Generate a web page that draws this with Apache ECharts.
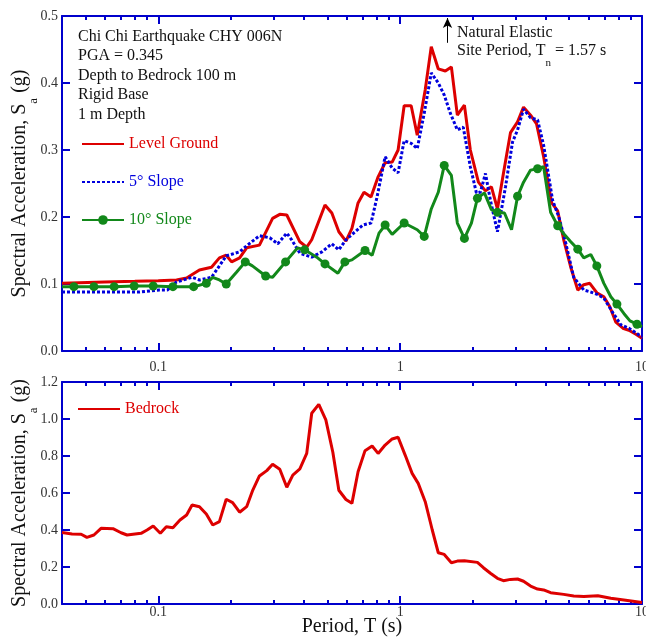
<!DOCTYPE html>
<html lang="en">
<head>
<meta charset="UTF-8">
<title>Chi Chi Earthquake CHY 006N - spectral acceleration</title>
<script src="https://cdn.jsdelivr.net/npm/echarts@6/dist/echarts.min.js"></script>
<style>
  html, body { margin: 0; padding: 0; background: #fff; }
  #main { width: 646px; height: 638px; }
</style>
</head>
<body>
<div id="main"></div>
<script>
// [period T (s), Sa (g)]
var levelGround = [[0.04,0.101],[0.06,0.103],[0.08,0.104],[0.1,0.105],[0.119,0.106],[0.131,0.109],[0.148,0.121],[0.166,0.125],[0.179,0.139],[0.191,0.143],[0.201,0.133],[0.217,0.139],[0.232,0.154],[0.262,0.158],[0.297,0.198],[0.318,0.204],[0.34,0.203],[0.385,0.163],[0.411,0.155],[0.431,0.166],[0.489,0.218],[0.522,0.206],[0.558,0.178],[0.597,0.164],[0.632,0.183],[0.67,0.221],[0.709,0.237],[0.758,0.23],[0.811,0.26],[0.867,0.281],[0.927,0.282],[0.981,0.3],[1.039,0.366],[1.111,0.366],[1.177,0.322],[1.27,0.39],[1.345,0.454],[1.438,0.421],[1.538,0.418],[1.629,0.424],[1.724,0.352],[1.844,0.367],[1.951,0.3],[2.107,0.252],[2.253,0.239],[2.385,0.245],[2.525,0.212],[2.673,0.265],[2.86,0.326],[3.059,0.342],[3.238,0.364],[3.462,0.352],[3.665,0.339],[3.92,0.29],[4.232,0.221],[4.482,0.209],[4.746,0.166],[5.075,0.125],[5.427,0.091],[5.745,0.099],[6.083,0.101],[6.504,0.087],[6.955,0.081],[7.363,0.066],[7.795,0.043],[8.336,0.034],[8.825,0.031],[9.437,0.025],[10,0.019]];

var slope5 = [[0.04,0.088],[0.06,0.088],[0.083,0.088],[0.101,0.091],[0.109,0.091],[0.119,0.103],[0.138,0.11],[0.148,0.106],[0.166,0.11],[0.179,0.127],[0.191,0.142],[0.217,0.148],[0.232,0.157],[0.262,0.172],[0.289,0.169],[0.312,0.16],[0.34,0.176],[0.356,0.166],[0.385,0.146],[0.431,0.14],[0.475,0.148],[0.522,0.16],[0.558,0.151],[0.597,0.166],[0.702,0.188],[0.758,0.191],[0.803,0.23],[0.867,0.29],[0.927,0.273],[0.981,0.266],[1.039,0.314],[1.111,0.31],[1.177,0.302],[1.258,0.355],[1.345,0.415],[1.438,0.4],[1.522,0.382],[1.612,0.355],[1.724,0.33],[1.824,0.334],[1.951,0.275],[2.067,0.236],[2.147,0.237],[2.253,0.265],[2.362,0.225],[2.525,0.178],[2.6,0.203],[2.727,0.245],[2.916,0.312],[3.059,0.33],[3.238,0.361],[3.462,0.348],[3.7,0.345],[3.92,0.307],[4.27,0.225],[4.53,0.2],[4.84,0.161],[5.22,0.11],[5.745,0.091],[6.14,0.088],[6.57,0.084],[6.955,0.079],[7.58,0.057],[8.18,0.039],[8.825,0.034],[9.437,0.027],[10,0.021]];

var slope10 = [[0.04,0.096],[0.0448,0.096],[0.0542,0.096],[0.0657,0.096],[0.0795,0.097],[0.0953,0.097],[0.115,0.096],[0.14,0.096],[0.158,0.101],[0.168,0.11],[0.179,0.106],[0.191,0.1],[0.211,0.118],[0.229,0.133],[0.245,0.127],[0.278,0.112],[0.297,0.11],[0.336,0.133],[0.377,0.154],[0.403,0.151],[0.452,0.14],[0.489,0.13],[0.553,0.116],[0.591,0.133],[0.632,0.136],[0.716,0.15],[0.766,0.143],[0.818,0.176],[0.867,0.188],[0.927,0.174],[1.039,0.191],[1.177,0.181],[1.258,0.171],[1.345,0.212],[1.438,0.237],[1.522,0.277],[1.629,0.262],[1.724,0.191],[1.844,0.168],[1.971,0.191],[2.087,0.228],[2.231,0.236],[2.385,0.211],[2.525,0.207],[2.7,0.206],[2.888,0.181],[3.059,0.231],[3.238,0.252],[3.462,0.27],[3.7,0.272],[3.92,0.275],[4.19,0.207],[4.482,0.187],[4.746,0.175],[5.075,0.163],[5.427,0.152],[5.745,0.139],[6.14,0.144],[6.504,0.127],[6.955,0.101],[7.431,0.081],[7.877,0.07],[8.414,0.056],[8.918,0.045],[9.535,0.04],[10,0.036]];
// periods of the 10 deg curve that carry a dot
var slope10Dots = [0.0448,0.0542,0.0657,0.0795,0.0953,0.115,0.14,0.158,0.191,0.229,0.278,0.336,0.403,0.489,0.591,0.716,0.867,1.039,1.258,1.522,1.844,2.087,2.525,3.059,3.7,4.482,5.427,6.504,7.877,9.535];

var bedrock = [[0.04,0.387],[0.044,0.378],[0.048,0.377],[0.0507,0.36],[0.0542,0.373],[0.058,0.409],[0.065,0.407],[0.0702,0.385],[0.0743,0.373],[0.0849,0.382],[0.0899,0.4],[0.0953,0.422],[0.102,0.382],[0.108,0.418],[0.115,0.412],[0.123,0.454],[0.131,0.481],[0.138,0.535],[0.148,0.526],[0.158,0.486],[0.168,0.427],[0.179,0.445],[0.191,0.566],[0.203,0.548],[0.217,0.496],[0.232,0.526],[0.246,0.616],[0.262,0.692],[0.281,0.721],[0.297,0.755],[0.318,0.728],[0.34,0.631],[0.36,0.697],[0.385,0.73],[0.411,0.814],[0.431,1.031],[0.461,1.079],[0.493,0.995],[0.527,0.82],[0.558,0.615],[0.597,0.565],[0.632,0.544],[0.67,0.715],[0.716,0.829],[0.766,0.854],[0.811,0.814],[0.867,0.859],[0.927,0.892],[0.981,0.901],[1.049,0.805],[1.121,0.706],[1.188,0.652],[1.27,0.553],[1.358,0.4],[1.438,0.277],[1.522,0.268],[1.629,0.223],[1.724,0.232],[1.844,0.234],[2.087,0.225],[2.21,0.196],[2.362,0.166],[2.525,0.139],[2.673,0.126],[2.86,0.133],[3.059,0.135],[3.238,0.123],[3.462,0.097],[3.7,0.081],[3.92,0.076],[4.19,0.061],[4.746,0.052],[5.222,0.043],[5.745,0.04],[6.569,0.045],[7.431,0.031],[8.414,0.022],[10,0.008]];

var majorPeriods = [0.1, 1, 10];
var minorPeriods = [0.04,0.05,0.06,0.07,0.08,0.09,0.2,0.3,0.4,0.5,0.6,0.7,0.8,0.9,2,3,4,5,6,7,8,9];
var siteT = 1.57;
var notes = ['Chi Chi Earthquake CHY 006N', 'PGA = 0.345', 'Depth to Bedrock 100 m', 'Rigid Base', '1 m Depth'];

var myChart = echarts.init(document.getElementById('main'));

var FONT = '"Liberation Serif", "Times New Roman", serif';
var AXIS = '#0000cc';
var RED = '#dd0000', BLUE = '#0000dd', GREEN = '#12881a';

function xAxes(grid, labelMargin, withName) {
  var base = {
    type: 'log', logBase: 10, gridIndex: grid, min: 0.04, max: 10,
    splitLine: { show: false }, axisLabel: { show: false }
  };
  var lineOn = { show: true, onZero: false, lineStyle: { color: AXIS, width: 2 } };
  var lineOff = { show: false, onZero: false };
  var majorTick = { show: true, inside: true, length: 8, customValues: majorPeriods, lineStyle: { color: AXIS, width: 2 } };
  var minorTick = { show: true, inside: true, length: 4, customValues: minorPeriods, lineStyle: { color: AXIS, width: 2 } };
  var bottomMajor = Object.assign({}, base, {
    position: 'bottom', axisLine: lineOn, axisTick: majorTick,
    axisLabel: {
      show: true, customValues: majorPeriods, margin: labelMargin,
      color: '#333', fontFamily: FONT, fontSize: 14,
      formatter: function (v) { return String(v); }
    }
  });
  if (withName) {
    bottomMajor.name = 'Period, T (s)';
    bottomMajor.nameLocation = 'middle';
    bottomMajor.nameGap = 13;
    bottomMajor.nameMoveOverlap = false;
    bottomMajor.nameTextStyle = { fontFamily: FONT, fontSize: 20, color: '#111' };
  }
  return [
    bottomMajor,
    Object.assign({}, base, { position: 'bottom', axisLine: lineOff, axisTick: minorTick }),
    Object.assign({}, base, { position: 'top', axisLine: lineOn, axisTick: majorTick }),
    Object.assign({}, base, { position: 'top', axisLine: lineOff, axisTick: minorTick })
  ];
}

function yAxes(grid, max, step) {
  var line = { show: true, onZero: false, lineStyle: { color: AXIS, width: 2 } };
  var tick = { show: true, inside: true, length: 8, lineStyle: { color: AXIS, width: 2 } };
  return [{
    type: 'value', gridIndex: grid, min: 0, max: max, interval: step, position: 'left',
    axisLine: line, axisTick: tick, splitLine: { show: false },
    axisLabel: {
      margin: 4, color: '#333', fontFamily: FONT, fontSize: 14,
      formatter: function (v) { return v.toFixed(1); }
    },
    name: '{t|Spectral Acceleration, S}{s|a}{t| (g)}',
    nameLocation: 'middle', nameRotate: 90, nameGap: 30, nameMoveOverlap: false,
    nameTextStyle: {
      rich: {
        t: { fontFamily: FONT, fontSize: 20, color: '#111', lineHeight: 22, verticalAlign: 'top' },
        s: { fontFamily: FONT, fontSize: 13, color: '#111', lineHeight: 13, verticalAlign: 'top', padding: [17, 0, 0, 0] }
      }
    }
  }, {
    type: 'value', gridIndex: grid, min: 0, max: max, interval: step, position: 'right',
    axisLine: line, axisTick: tick, splitLine: { show: false }, axisLabel: { show: false }
  }];
}

var slope10Data = slope10.map(function (p) {
  return { value: p, symbol: slope10Dots.indexOf(p[0]) >= 0 ? 'circle' : 'none' };
});

var noDot = { opacity: 0 };

var option = {
  animation: false,
  backgroundColor: '#fff',
  grid: [
    { left: 62, right: 4, top: 16, height: 335, outerBoundsMode: 'none', containLabel: false },
    { left: 62, right: 4, top: 382, height: 222, outerBoundsMode: 'none', containLabel: false }
  ],
  xAxis: xAxes(0, 9, false).concat(xAxes(1, 1, true)),
  yAxis: yAxes(0, 0.5, 0.1).concat(yAxes(1, 1.2, 0.2)),
  legend: [{
    orient: 'vertical', left: 81, top: 136, padding: 0,
    itemWidth: 42, itemHeight: 12, itemGap: 22,
    selectedMode: false,
    textStyle: { fontFamily: FONT, fontSize: 16 },
    data: [
      { name: 'Level Ground', itemStyle: noDot, textStyle: { color: RED } },
      { name: '5° Slope', itemStyle: noDot, textStyle: { color: BLUE } },
      { name: '10° Slope', textStyle: { color: GREEN } }
    ]
  }, {
    orient: 'vertical', left: 77, top: 401, padding: 0,
    itemWidth: 42, itemHeight: 12,
    selectedMode: false,
    textStyle: { fontFamily: FONT, fontSize: 16 },
    data: [{ name: 'Bedrock', itemStyle: noDot, textStyle: { color: RED } }]
  }],
  graphic: [{
    type: 'text', left: 78, top: 27, silent: true,
    style: { text: notes.join('\n'), fontFamily: FONT, fontSize: 16, lineHeight: 19.5, fill: '#111' }
  }, {
    type: 'text', left: 457, top: 23, silent: true,
    style: { text: 'Natural Elastic', fontFamily: FONT, fontSize: 16, lineHeight: 20, fill: '#111' }
  }, {
    type: 'text', left: 457, top: 43, silent: true,
    style: {
      text: '{m|Site Period, T}{s|n}{m| = ' + siteT + ' s}',
      rich: {
        m: { fontFamily: FONT, fontSize: 16, lineHeight: 20, fill: '#111', verticalAlign: 'top' },
        s: { fontFamily: FONT, fontSize: 11, lineHeight: 11, fill: '#111', verticalAlign: 'top', padding: [15, 0, 0, 0] }
      }
    }
  }],
  series: [{
    name: 'Level Ground', type: 'line', xAxisIndex: 0, yAxisIndex: 0,
    data: levelGround, symbol: 'none', color: RED,
    lineStyle: { color: RED, width: 3 },
    markLine: {
      silent: true, symbol: ['none', 'arrow'], symbolSize: [7, 10],
      label: { show: false },
      lineStyle: { color: '#000', width: 1, type: 'solid' },
      data: [[{ coord: [siteT, 0.46] }, { coord: [siteT, 0.497] }]]
    }
  }, {
    name: '5° Slope', type: 'line', xAxisIndex: 0, yAxisIndex: 0,
    data: slope5, symbol: 'none', color: BLUE,
    lineStyle: { color: BLUE, width: 3, type: [3, 2] }
  }, {
    name: '10° Slope', type: 'line', xAxisIndex: 0, yAxisIndex: 0,
    data: slope10Data, symbol: 'circle', symbolSize: 9, showAllSymbol: true, color: GREEN,
    itemStyle: { color: GREEN },
    lineStyle: { color: GREEN, width: 3 }
  }, {
    name: 'Bedrock', type: 'line', xAxisIndex: 4, yAxisIndex: 2,
    data: bedrock, symbol: 'none', color: RED,
    lineStyle: { color: RED, width: 3 }
  }]
};

myChart.setOption(option);
</script>
</body>
</html>
